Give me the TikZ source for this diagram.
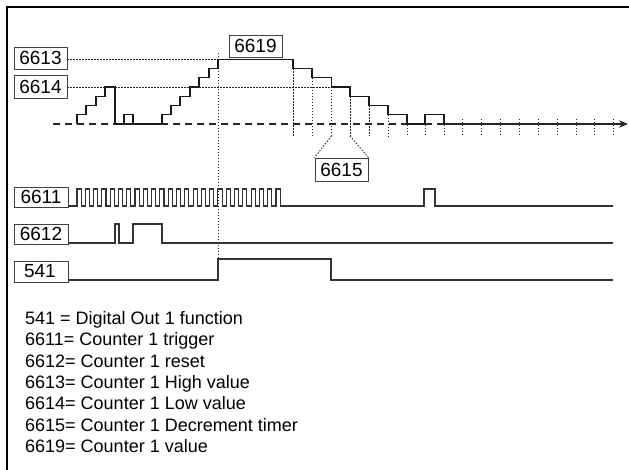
\documentclass[tikz,border=0pt]{standalone}
\usepackage{fontspec}
\setmainfont{Liberation Sans}
\usetikzlibrary{arrows.meta,calc}
\begin{document}
\begin{tikzpicture}[x=1pt,y=-1pt,
 box/.style={draw=black!75, line width=0.9pt, fill=white, inner sep=0pt, minimum width=53pt, minimum height=22pt, font=\fontsize{19}{19}\selectfont},
 sig/.style={draw=black!80, line width=1.1pt, line join=miter},
 stair/.style={draw=black!90, line width=1.2pt, line join=miter},
 dots/.style={draw=black!85, line width=0.9pt, dash pattern=on 1.4pt off 1.6pt},
 axisline/.style={draw=black!85, line width=1.4pt, dash pattern=on 7pt off 5pt},
 leg/.style={anchor=base west, inner sep=0pt, font=\fontsize{18}{18}\selectfont}]
\useasboundingbox (0,0) rectangle (629,470);
% frame
\draw[line width=1.5pt] (7,470) -- (7,7) -- (629,7);

% levels
\def\La{124}\def\Lb{114.75}\def\Lc{105.5}\def\Ld{96.25}\def\Le{87}\def\Lf{77.75}\def\Lg{68.5}\def\Lh{59.25}

% dotted verticals
\draw[dots] (218,53) -- (218,259);
\foreach \x/\y in {293/\Lg,312/\Lf,331.5/\Le,350/\Ld,369/\Lc,388/\Lb}
  \draw[dots] (\x,\y) -- (\x,136);
\foreach \x in {407,425,444,462.5,481,500,519,538,557,576,594.5,613}
  \draw[dots] (\x,119) -- (\x,136);

% axis
\draw[axisline] (53,124) -- (619,124);
\draw[draw=black!85, line width=1.2pt] (444,124) -- (619,124);
\coordinate (tip) at (628,124);
\draw[draw=black!85, line width=1.2pt, -{Stealth[length=9pt,width=7.5pt]}] (618,124) -- (tip);

% staircase
\draw[stair] (77,\La) -- (77,\Lb) -- (86,\Lb) -- (86,\Lc) -- (96,\Lc) -- (96,\Ld) -- (105,\Ld) -- (105,\Le)
 -- (115,\Le) -- (115,\La) -- (124,\La) -- (124,\Lb) -- (133,\Lb) -- (133,\La) -- (162,\La)
 -- (162,\Lb) -- (171,\Lb) -- (171,\Lc) -- (180,\Lc) -- (180,\Ld) -- (190,\Ld) -- (190,\Le)
 -- (199,\Le) -- (199,\Lf) -- (209,\Lf) -- (209,\Lg) -- (218,\Lg) -- (218,\Lh) -- (293,\Lh)
 -- (293,\Lg) -- (312,\Lg) -- (312,\Lf) -- (331.5,\Lf) -- (331.5,\Le) -- (350,\Le) -- (350,\Ld)
 -- (369,\Ld) -- (369,\Lc) -- (388,\Lc) -- (388,\Lb) -- (407,\Lb) -- (407,\La) -- (425,\La)
 -- (425,\Lb) -- (444,\Lb) -- (444,\La);

% boxes
\node[box] (b6613) at (40.5,58) {6613};
\node[box, minimum height=23pt] (b6614) at (40.5,86.5) {6614};
\node[box] (b6619) at (255.5,46) {6619};
\node[box, minimum height=23pt] (b6615) at (341.5,169.5) {6615};
\node[box, minimum width=54pt, minimum height=20pt] (b6611) at (41,197) {6611};
\node[box, minimum width=54pt, minimum height=20pt] (b6612) at (41,234) {6612};
\node[box, minimum width=54pt, minimum height=21pt] (b541) at (41,271.5) {\makebox[54pt][l]{\hspace{10pt}541}};

% dotted level lines
\draw[dots] (b6613.east |- 0,59.25) -- (218,59.25);
\draw[dots] (b6614.east |- 0,87) -- (331.5,87);
% decrement timer markers
\draw[dots] (331.5,136) -- (b6615.north west);
\draw[dots] (350,136) -- (b6615.north east);

% 6611 trigger
\draw[sig] (b6611.east |- 0,206) -- (77,206)
  \foreach \i in {1,...,25} { -- ++(0,-17) -- ++(4.14,0) -- ++(0,17) -- ++(4.15,0) }
  -- (424,206) -- (424,189) -- (435,189) -- (435,206) -- (613,206);
% 6612 reset
\draw[sig] (b6612.east |- 0,243) -- (115,243) -- (115,224) -- (119,224) -- (119,243) -- (133,243)
  -- (133,224) -- (162,224) -- (162,243) -- (613,243);
% 541 digital out
\draw[sig] (b541.east |- 0,280) -- (218,280) -- (218,259) -- (331,259) -- (331,280) -- (613,280);

% legend
\node[leg] (l1) at (25,324.5) {541 = Digital Out 1 function};
\node[leg] (l2) at (25,345.9) {6611= Counter 1 trigger};
\node[leg] (l3) at (25,367.2) {6612= Counter 1 reset};
\node[leg] (l4) at (25,388.6) {6613= Counter 1 High value};
\node[leg] (l5) at (25,409.9) {6614= Counter 1 Low value};
\node[leg] (l6) at (25,431.3) {6615= Counter 1 Decrement timer};
\node[leg] (l7) at (25,452.6) {6619= Counter 1 value};
\end{tikzpicture}
\end{document}
